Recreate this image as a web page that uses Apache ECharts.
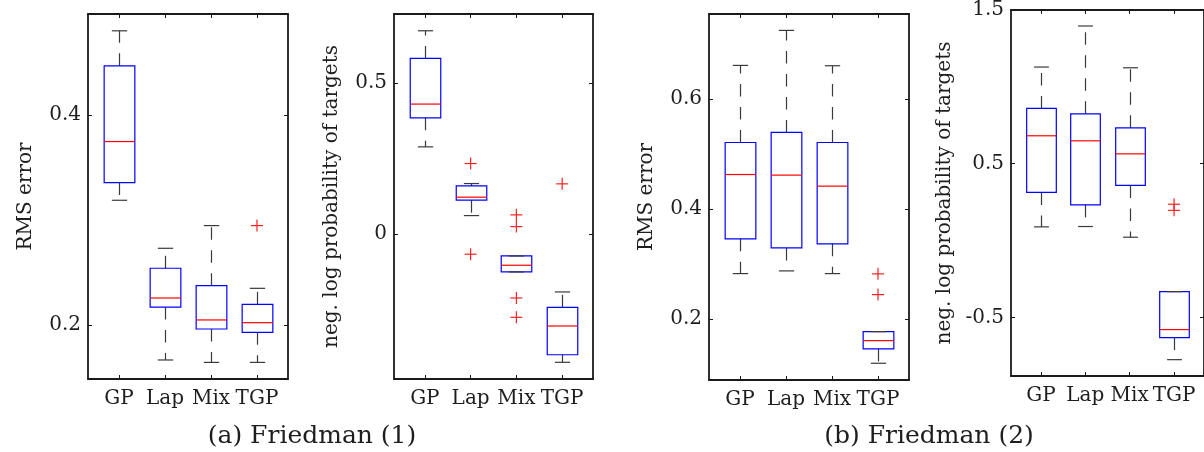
<!DOCTYPE html>
<html>
<head>
<meta charset="utf-8">
<script src="https://cdn.jsdelivr.net/npm/echarts@6/dist/echarts.min.js"></script>
<style>
html,body{margin:0;padding:0;background:#fff;}
#chart{width:1204px;height:452px;}
</style>
</head>
<body>
<div id="chart"></div>
<script>
// ---------- DATA ----------
const categories = ['GP', 'Lap', 'Mix', 'TGP'];

// each box: [lower whisker, Q1, median, Q3, upper whisker]
const f1RmsBoxes = [
  [0.3187, 0.3356, 0.3746, 0.4467, 0.4800],
  [0.1667, 0.2171, 0.2257, 0.2540, 0.2730],
  [0.1644, 0.1962, 0.2048, 0.2374, 0.2946],
  [0.1644, 0.1930, 0.2022, 0.2197, 0.2349]
];
const f1RmsOutliers = [[4, 0.2946]];

const f1NlpBoxes = [
  [0.289, 0.385, 0.4305, 0.5815, 0.673],
  [0.0616, 0.1126, 0.1225, 0.160, 0.1676],
  [-0.1248, -0.1248, -0.1027, -0.0719, -0.0719],
  [-0.4238, -0.3987, -0.3036, -0.2418, -0.191]
];
const f1NlpOutliers = [[2, 0.2338], [2, -0.0662], [3, 0.064], [3, 0.0252], [3, -0.211], [3, -0.275], [4, 0.1666]];

const f2RmsBoxes = [
  [0.2829, 0.3460, 0.4629, 0.5211, 0.6611],
  [0.2878, 0.3296, 0.4618, 0.5393, 0.7247],
  [0.2829, 0.3369, 0.4418, 0.5211, 0.6605],
  [0.1200, 0.1460, 0.1611, 0.1775, 0.1775]
];
const f2RmsOutliers = [[4, 0.2824], [4, 0.2447]];

const f2NlpBoxes = [
  [0.0886, 0.3127, 0.6814, 0.8596, 1.1287],
  [0.0909, 0.2316, 0.6486, 0.8246, 1.3958],
  [0.0212, 0.3580, 0.5638, 0.7332, 1.1240],
  [-0.7756, -0.6320, -0.5800, -0.3327, -0.3327]
];
const f2NlpOutliers = [[4, 0.236], [4, 0.196]];

const rmsTicksA = [0.2, 0.4];
const nlpTicksA = [0, 0.5];
const rmsTicksB = [0.2, 0.4, 0.6];
const nlpTicksB = [-0.5, 0.5, 1.5];

const yNameRms = 'RMS error';
const yNameNlp = 'neg. log probability of targets';
const captions = ['(a) Friedman (1)', '(b) Friedman (2)'];

// ---------- LAYOUT ----------
const FONT = 'DejaVu Serif';
const TXT = '#1e1e1e';
const FRAME = '#1a1a1a';
const XMIN = 0.326, XMAX = 4.674;
const BOXW = 0.667;

const panels = [
  {boxes: f1RmsBoxes, out: f1RmsOutliers, ticks: rmsTicksA, ymin: 0.1486, ymax: 0.496, name: yNameRms,
   grid: {left: 88, top: 14, width: 200, height: 365}, nameGap: 52},
  {boxes: f1NlpBoxes, out: f1NlpOutliers, ticks: nlpTicksA, ymin: -0.479, ymax: 0.7285, name: yNameNlp,
   grid: {left: 394, top: 14, width: 199, height: 365}, nameGap: 52},
  {boxes: f2RmsBoxes, out: f2RmsOutliers, ticks: rmsTicksB, ymin: 0.0896, ymax: 0.7545, name: yNameRms,
   grid: {left: 709, top: 14, width: 200, height: 366}, nameGap: 52},
  {boxes: f2NlpBoxes, out: f2NlpOutliers, ticks: nlpTicksB, ymin: -0.882, ymax: 1.5, name: yNameNlp,
   grid: {left: 1011, top: 10, width: 200, height: 366}, nameGap: 56}
];

const catIdx = categories.map((c, i) => i + 1);

function boxRender(params, api) {
  const x = api.value(0);
  const lo = api.coord([x, api.value(1)]);
  const q1 = api.coord([x, api.value(2)]);
  const md = api.coord([x, api.value(3)]);
  const q3 = api.coord([x, api.value(4)]);
  const hi = api.coord([x, api.value(5)]);
  const bw = api.size([BOXW, 0])[0];
  const cx = Math.round(lo[0]) + 0.5;
  const hb = bw / 2, hc = bw / 4;
  const wStyle = {stroke: '#3a3a3a', lineWidth: 1.2, lineDash: [12.5, 10.5]};
  const cStyle = {stroke: '#3a3a3a', lineWidth: 1.2};
  const children = [];
  if (hi[1] < q3[1] - 0.5) {
    children.push({type: 'line', shape: {x1: cx, y1: q3[1], x2: cx, y2: hi[1]}, style: wStyle});
  }
  if (lo[1] > q1[1] + 0.5) {
    children.push({type: 'line', shape: {x1: cx, y1: q1[1], x2: cx, y2: lo[1]}, style: wStyle});
  }
  children.push({type: 'rect', shape: {x: cx - hb, y: q3[1], width: bw, height: q1[1] - q3[1]},
    style: {fill: null, stroke: '#0000ff', lineWidth: 1.2}});
  children.push({type: 'line', shape: {x1: cx - hb, y1: md[1], x2: cx + hb, y2: md[1]},
    style: {stroke: '#ff0000', lineWidth: 1.2}});
  children.push({type: 'line', shape: {x1: cx - hc, y1: hi[1], x2: cx + hc, y2: hi[1]}, style: cStyle});
  children.push({type: 'line', shape: {x1: cx - hc, y1: lo[1], x2: cx + hc, y2: lo[1]}, style: cStyle});
  return {type: 'group', children};
}

function plusRender(params, api) {
  const p = api.coord([api.value(0), api.value(1)]);
  const s = 6;
  const st = {stroke: '#ff2020', lineWidth: 1.2};
  return {type: 'group', children: [
    {type: 'line', shape: {x1: p[0] - s, y1: p[1], x2: p[0] + s, y2: p[1]}, style: st},
    {type: 'line', shape: {x1: p[0], y1: p[1] - s, x2: p[0], y2: p[1] + s}, style: st}
  ]};
}

const grid = [], xAxis = [], yAxis = [], series = [];
panels.forEach((p, i) => {
  grid.push(Object.assign({containLabel: false}, p.grid));
  const axLine = {show: true, onZero: false, lineStyle: {color: FRAME, width: 1.8}};
  const xBase = {type: 'value', gridIndex: i, min: XMIN, max: XMAX, splitLine: {show: false}, axisLine: axLine};
  xAxis.push(Object.assign({}, xBase, {
    position: 'bottom',
    axisTick: {show: true, inside: true, length: 4, customValues: catIdx, lineStyle: {color: FRAME}},
    axisLabel: {show: true, customValues: catIdx, margin: 10, fontFamily: FONT, fontSize: 20, color: TXT,
      formatter: v => categories[Math.round(v) - 1]}
  }));
  xAxis.push(Object.assign({}, xBase, {
    position: 'top',
    axisTick: {show: true, inside: true, length: 4, customValues: catIdx, lineStyle: {color: FRAME}},
    axisLabel: {show: false}
  }));
  const yBase = {type: 'value', gridIndex: i, min: p.ymin, max: p.ymax, splitLine: {show: false}, axisLine: axLine};
  yAxis.push(Object.assign({}, yBase, {
    position: 'left',
    name: p.name, nameLocation: 'middle', nameGap: p.nameGap,
    nameTextStyle: {fontFamily: FONT, fontSize: 20, color: TXT},
    axisTick: {show: true, inside: true, length: 4, customValues: p.ticks, lineStyle: {color: FRAME}},
    axisLabel: {show: true, customValues: p.ticks, margin: 7, fontFamily: FONT, fontSize: 20, color: TXT,
      formatter: v => String(v)}
  }));
  yAxis.push(Object.assign({}, yBase, {
    position: 'right',
    axisTick: {show: true, inside: true, length: 4, customValues: p.ticks, lineStyle: {color: FRAME}},
    axisLabel: {show: false}
  }));
  series.push({
    type: 'custom', xAxisIndex: 2 * i, yAxisIndex: 2 * i,
    renderItem: boxRender,
    encode: {x: 0, y: [1, 2, 3, 4, 5]},
    data: p.boxes.map((b, k) => [catIdx[k]].concat(b)),
    silent: true, clip: false
  });
  series.push({
    type: 'custom', xAxisIndex: 2 * i, yAxisIndex: 2 * i,
    renderItem: plusRender,
    encode: {x: 0, y: 1},
    data: p.out,
    silent: true, clip: false
  });
});

const chart = echarts.init(document.getElementById('chart'), null, {renderer: 'canvas'});
chart.setOption({
  animation: false,
  backgroundColor: '#fff',
  grid, xAxis, yAxis, series,
  graphic: [
    {type: 'text', x: 312, y: 436, style: {text: captions[0], font: '25px "DejaVu Serif"', fill: TXT, textAlign: 'center', textVerticalAlign: 'middle'}},
    {type: 'text', x: 929, y: 436, style: {text: captions[1], font: '25px "DejaVu Serif"', fill: TXT, textAlign: 'center', textVerticalAlign: 'middle'}}
  ]
});
</script>
</body>
</html>
